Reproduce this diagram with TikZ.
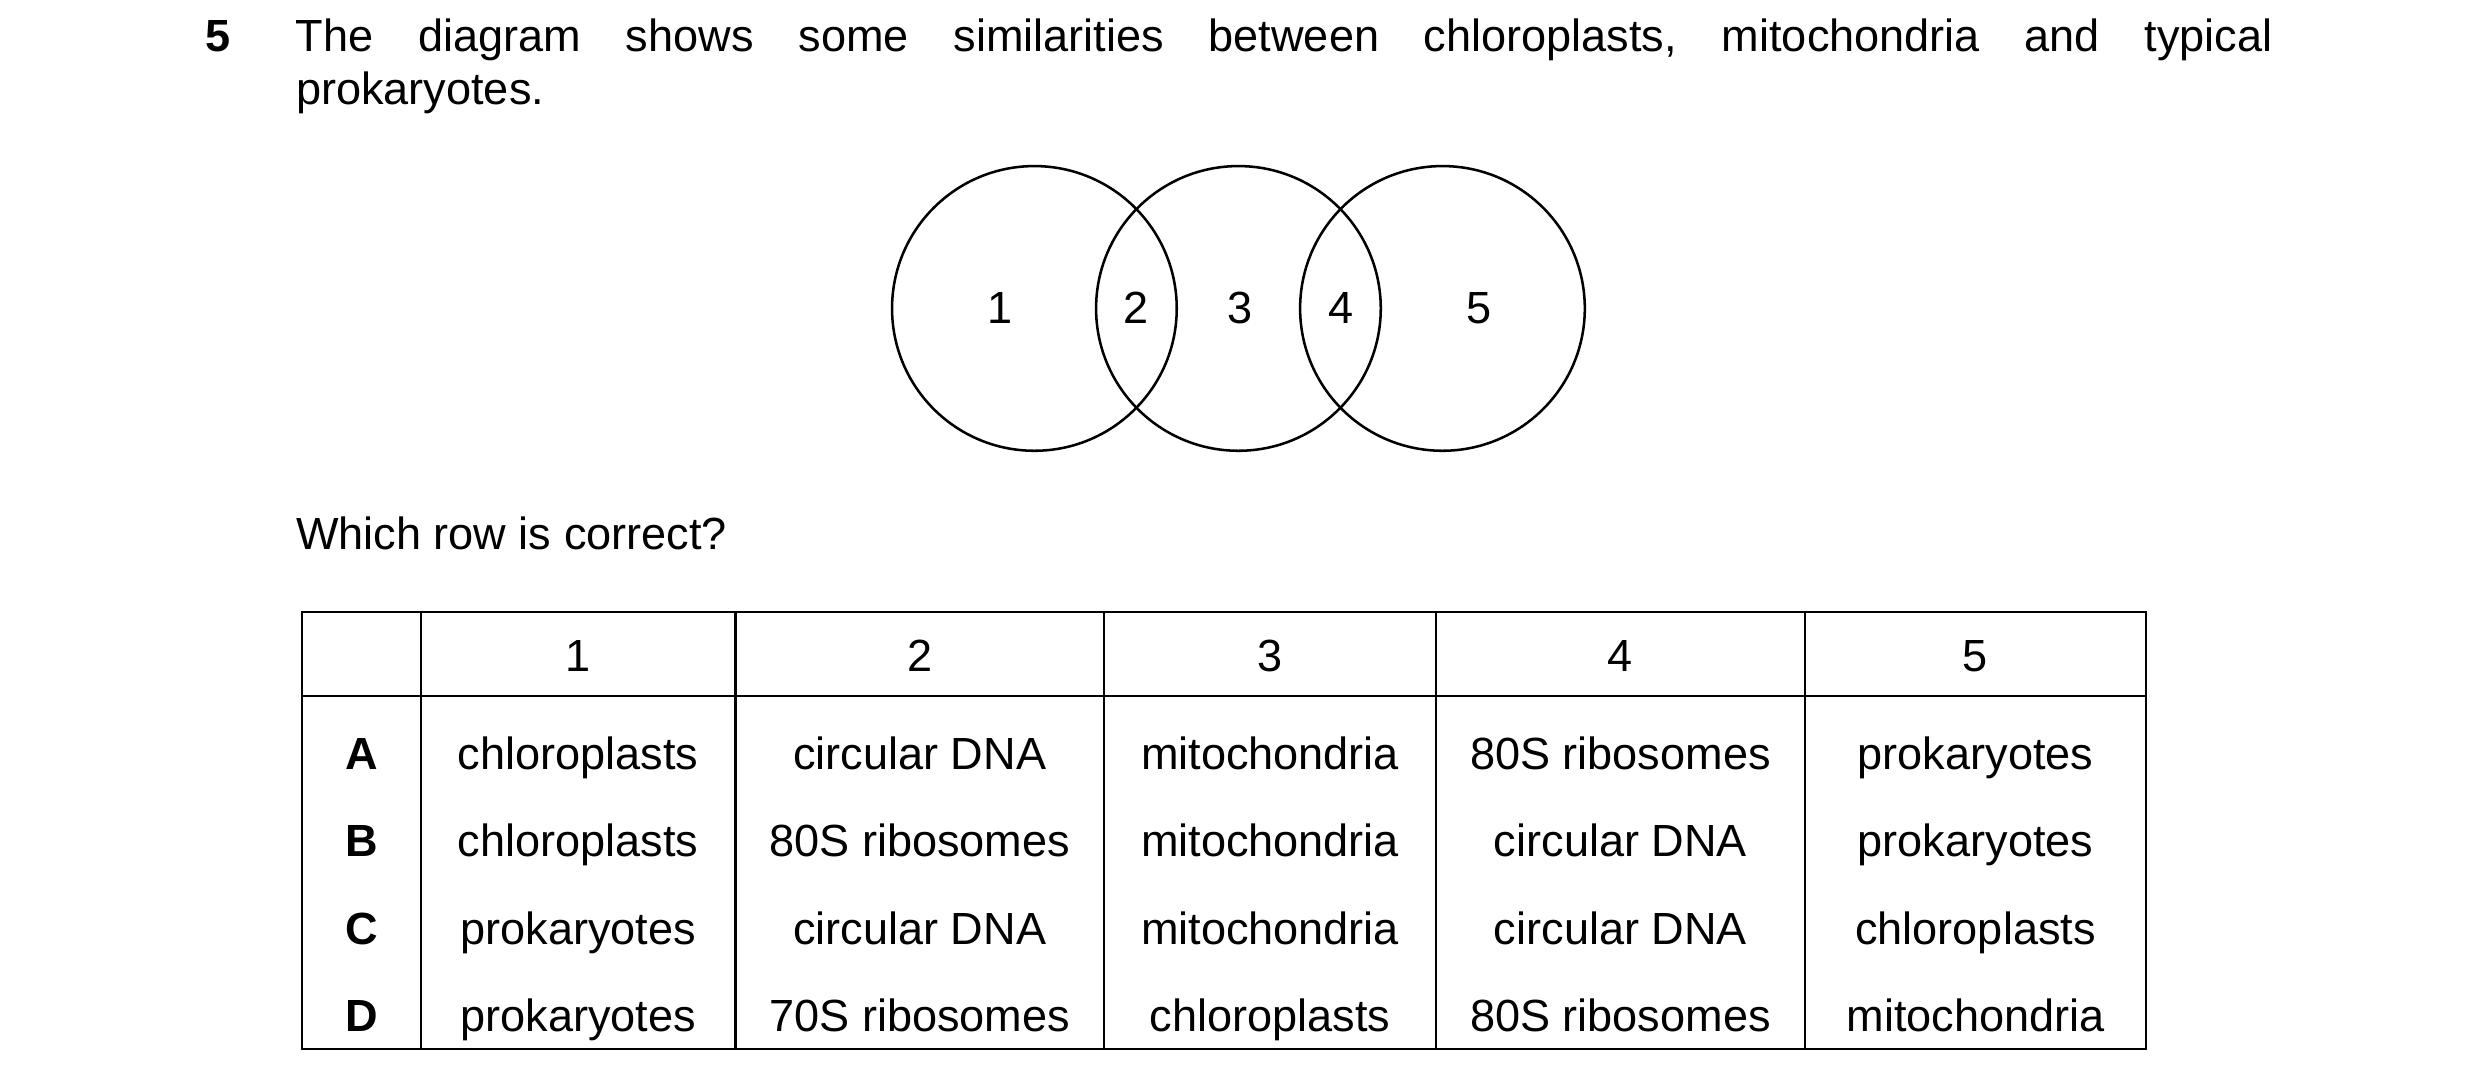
\documentclass[tikz,border=0pt]{standalone}
\usepackage{fontspec}
\setmainfont{Liberation Sans}
\begin{document}
\begin{tikzpicture}[x=1pt,y=-1pt,
  every node/.style={font=\fontsize{28.5}{34}\selectfont, inner sep=0pt, text height=20.5pt, text depth=0pt},
  circ/.style={draw, line width=1.6pt},
  grid/.style={draw, line width=1.4pt}]
\useasboundingbox (0,0) rectangle (1568,688.5);
\node[font=\fontsize{28.5}{34}\selectfont\bfseries] (qn) at (138,22) {5};
\node (qt1) at (812,22) {\hbox to 1250pt{The\hfill diagram\hfill shows\hfill some\hfill similarities\hfill between\hfill chloroplasts,\hfill mitochondria\hfill and\hfill typical}};
\node[anchor=west] (qt2) at (187,56) {prokaryotes.};
\draw[circ] (654,195) circle (90);
\draw[circ] (783,195) circle (90);
\draw[circ] (912,195) circle (90);
\node (l1) at (632,194) {1};
\node (l2) at (718,194) {2};
\node (l3) at (784,194) {3};
\node (l4) at (848,194) {4};
\node (l5) at (935,194) {5};
\node[anchor=west] (q2) at (187,337) {Which row is correct?};
\draw[grid] (191,387) rectangle (1357,663);
\draw[grid] (191,440) -- (1357,440);
\foreach \x in {266,465,698,908,1141} \draw[grid] (\x,387) -- (\x,663);
\foreach \t/\x in {1/365.5,2/581.5,3/803,4/1024.5,5/1249} \node at (\x,414) {\t};
\foreach \r/\y/\a/\b/\c/\d/\e in {
 A/476/chloroplasts/circular DNA/mitochondria/80S ribosomes/prokaryotes,
 B/531/chloroplasts/80S ribosomes/mitochondria/circular DNA/prokaryotes,
 C/587/prokaryotes/circular DNA/mitochondria/circular DNA/chloroplasts,
 D/642/prokaryotes/70S ribosomes/chloroplasts/80S ribosomes/mitochondria} {
  \node[font=\fontsize{28.5}{34}\selectfont\bfseries] at (228.5,\y) {\r};
  \node at (365.5,\y) {\a};
  \node at (581.5,\y) {\b};
  \node at (803,\y) {\c};
  \node at (1024.5,\y) {\d};
  \node at (1249,\y) {\e};
}
\end{tikzpicture}
\end{document}
